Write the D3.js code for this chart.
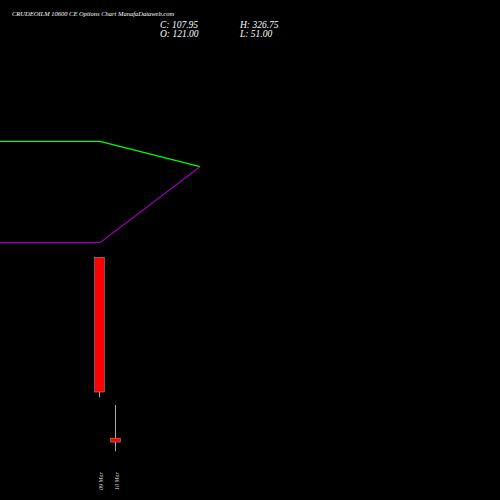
<!DOCTYPE html>
<html><head><meta charset="utf-8">
<script src="https://cdn.jsdelivr.net/npm/d3@7"></script>
<style>body{margin:0;background:#000}</style></head>
<body><svg id="c" width="500" height="500"></svg>
<script>
const dates = ["09 Mar", "10 Mar"];
const opens = [327, 49];
const highs = [327, 100];
const lows = [112, 29];
const closes = [120, 43];
const greenLine = [1000, 1000, 900];
const purpleLine = [600, 600, 900];

const svg = d3.select("#c");
svg.append("rect").attr("width",500).attr("height",500).attr("fill","#000");
const x = d3.scaleBand().domain(dates).range([91.5, 123.5]).paddingInner(0.4).paddingOuter(0.2);
const y = d3.scaleLinear().domain([0, 500]).range([470, 145]);
const lx = d3.scaleLinear().domain([0, 2]).range([0, 200]);
const ly = d3.scaleLinear().domain([500, 1100]).range([268, 116]);

const line = d3.line().x((d,i)=>lx(i)).y(d=>ly(d));
svg.append("path").attr("d", line(greenLine)).attr("stroke","#00ff00").attr("fill","none").attr("stroke-width",1.3);
svg.append("path").attr("d", line(purpleLine)).attr("stroke","#9900bb").attr("fill","none").attr("stroke-width",1.3);

dates.forEach((d,i)=>{
  const cx = x(d) + x.bandwidth()/2;
  svg.append("line").attr("x1",cx).attr("x2",cx).attr("y1",y(highs[i])).attr("y2",y(lows[i])).attr("stroke","#aaa").attr("stroke-width",1);
  const top = y(Math.max(opens[i],closes[i])), bot = y(Math.min(opens[i],closes[i]));
  svg.append("rect").attr("x",x(d)).attr("width",x.bandwidth()).attr("y",top).attr("height",Math.max(1,bot-top))
    .attr("fill", closes[i] < opens[i] ? "#ff0000" : "#00ff00").attr("stroke","#aaa").attr("stroke-width",0.5);
  svg.append("text").attr("transform",`translate(${cx+3},490) rotate(-90)`).attr("fill","#ddd")
    .attr("font-family","Liberation Serif").attr("font-style","italic").attr("font-size",6).text(d);
});

const tf = "Liberation Serif";
svg.append("text").attr("x",12).attr("y",16).attr("fill","#fff").attr("font-family",tf).attr("font-style","italic").attr("font-size",6.5)
  .text("CRUDEOILM 10600  CE Options  Chart ManafaDataweb.com");
svg.append("text").attr("x",160).attr("y",28).attr("fill","#fff").attr("font-family",tf).attr("font-style","italic").attr("font-size",9.5).text("C: 107.95");
svg.append("text").attr("x",160).attr("y",37).attr("fill","#fff").attr("font-family",tf).attr("font-style","italic").attr("font-size",9.5).text("O: 121.00");
svg.append("text").attr("x",240).attr("y",28).attr("fill","#fff").attr("font-family",tf).attr("font-style","italic").attr("font-size",9.5).text("H: 326.75");
svg.append("text").attr("x",240).attr("y",37).attr("fill","#fff").attr("font-family",tf).attr("font-style","italic").attr("font-size",9.5).text("L: 51.00");
</script></body></html>
